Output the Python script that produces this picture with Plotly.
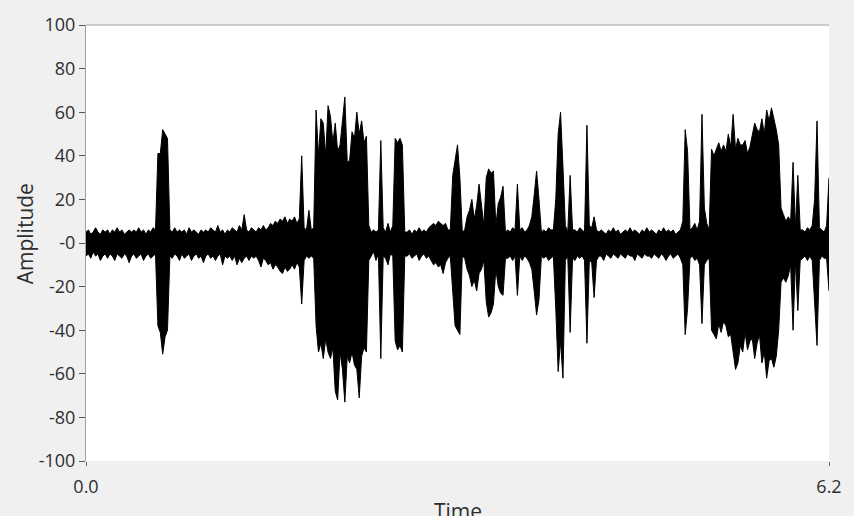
import plotly.graph_objects as go

# Waveform: start time, sample spacing (s), and per-sample upper / lower envelope
t0 = 0.0
dt = 0.02

upper = (
    [5, 6, 4, 5, 7, 5, 4, 6, 5, 6]            # 0-9
    + [4, 6, 5, 7, 5, 6, 4, 5, 6, 5]          # 10-19
    + [6, 5, 7, 5, 6, 4, 6, 5, 7, 6]          # 20-29
    + [41, 41, 52, 50, 48, 6, 5, 7, 5, 6]     # 30-39
    + [5, 6, 4, 7, 5, 6, 5, 4, 6, 5]          # 40-49
    + [6, 5, 7, 6, 5, 8, 5, 6, 4, 6]          # 50-59
    + [5, 7, 6, 5, 8, 6, 13, 6, 5, 7]         # 60-69
    + [6, 5, 7, 6, 8, 6, 7, 9, 8, 10]         # 70-79
    + [9, 11, 10, 12, 9, 11, 10, 12, 9, 11]   # 80-89
    + [40, 7, 6, 15, 6, 7, 61, 40, 57, 55]    # 90-99
    + [40, 63, 58, 46, 55, 42, 45, 56, 67, 37]  # 100-109
    + [38, 51, 48, 60, 50, 56, 46, 49, 8, 5]  # 110-119
    + [6, 5, 6, 47, 7, 5, 9, 5, 8, 48]        # 120-129
    + [46, 48, 45, 5, 5, 6, 4, 6, 5, 7]       # 130-139
    + [5, 6, 5, 7, 8, 9, 8, 10, 9, 8]         # 140-149
    + [9, 6, 6, 31, 38, 45, 30, 5, 6, 12]     # 150-159
    + [15, 20, 11, 17, 27, 16, 8, 30, 34, 32]  # 160-169
    + [33, 8, 18, 21, 26, 5, 6, 5, 7, 6]      # 170-179
    + [27, 6, 7, 5, 6, 8, 12, 22, 33, 20]     # 180-189
    + [5, 6, 5, 7, 6, 6, 20, 50, 60, 35]      # 190-199
    + [8, 5, 31, 6, 6, 5, 7, 6, 5, 54]        # 200-209
    + [8, 7, 12, 6, 5, 6, 5, 4, 6, 5]         # 210-219
    + [7, 5, 6, 4, 5, 6, 5, 7, 5, 6]          # 220-229
    + [5, 4, 6, 5, 7, 5, 6, 5, 4, 6]          # 230-239
    + [5, 7, 5, 6, 5, 6, 4, 5, 6, 10]         # 240-249
    + [52, 42, 6, 7, 9, 6, 10, 59, 16, 9]     # 250-259
    + [6, 43, 40, 43, 46, 42, 45, 42, 50, 44]  # 260-269
    + [59, 43, 48, 45, 45, 47, 41, 44, 50, 55]  # 270-279
    + [52, 51, 57, 50, 61, 56, 62, 57, 52, 45]  # 280-289
    + [16, 13, 10, 12, 10, 37, 7, 31, 6, 6]   # 290-299
    + [5, 7, 6, 8, 20, 56, 7, 6, 5, 8]        # 300-309
    + [30]                                    # 310
)

lower = (
    [-6, -5, -7, -4, -6, -5, -8, -6, -5, -7]
    + [-5, -6, -8, -5, -6, -7, -5, -6, -9, -6]
    + [-5, -7, -6, -5, -8, -6, -5, -7, -6, -5]
    + [-38, -41, -51, -43, -40, -6, -7, -5, -6, -8]
    + [-5, -7, -6, -5, -8, -6, -5, -7, -6, -9]
    + [-6, -5, -7, -6, -8, -6, -5, -10, -6, -7]
    + [-6, -8, -6, -10, -7, -9, -7, -6, -8, -6]
    + [-7, -6, -8, -11, -7, -8, -10, -9, -12, -10]
    + [-11, -13, -14, -11, -13, -12, -10, -12, -9, -11]
    + [-28, -8, -6, -7, -6, -7, -38, -50, -46, -53]
    + [-44, -50, -53, -48, -68, -72, -50, -58, -73, -52]
    + [-55, -50, -56, -58, -71, -52, -48, -50, -8, -6]
    + [-4, -8, -5, -53, -6, -7, -10, -5, -6, -45]
    + [-49, -47, -50, -6, -6, -5, -7, -6, -5, -8]
    + [-6, -5, -7, -6, -8, -10, -9, -11, -10, -14]
    + [-9, -7, -6, -22, -38, -40, -42, -6, -7, -12]
    + [-15, -20, -17, -22, -14, -12, -8, -27, -34, -32]
    + [-28, -12, -20, -23, -24, -7, -7, -6, -8, -6]
    + [-24, -6, -8, -6, -7, -9, -12, -22, -33, -26]
    + [-6, -7, -6, -8, -7, -6, -30, -59, -45, -62]
    + [-8, -6, -41, -7, -8, -6, -7, -6, -8, -46]
    + [-8, -9, -25, -8, -6, -6, -8, -5, -6, -7]
    + [-5, -6, -7, -5, -6, -7, -5, -6, -6, -8]
    + [-5, -6, -7, -5, -6, -6, -7, -5, -6, -7]
    + [-5, -6, -8, -6, -5, -7, -6, -5, -7, -10]
    + [-42, -30, -7, -6, -8, -7, -10, -37, -10, -8]
    + [-7, -40, -42, -44, -37, -41, -36, -38, -43, -42]
    + [-50, -58, -55, -47, -50, -41, -49, -45, -44, -53]
    + [-46, -42, -55, -50, -62, -54, -53, -57, -52, -40]
    + [-18, -16, -18, -15, -10, -40, -8, -31, -8, -7]
    + [-6, -8, -6, -8, -28, -47, -8, -6, -7, -7]
    + [-22]
)

x_tickvals = [0.0, 6.2]
x_ticktext = ["0.0", "6.2"]
y_tickvals = [-100, -80, -60, -40, -20, 0, 20, 40, 60, 80, 100]
y_ticktext = ["-100", "-80", "-60", "-40", "-20", "-0", "20", "40", "60", "80", "100"]
x_title = "Time"
y_title = "Amplitude"

assert len(upper) == len(lower) == 311

fig = go.Figure()
fig.add_trace(go.Scatter(x0=t0, dx=dt, y=upper, mode="lines",
                         line=dict(color="black", width=1), hoverinfo="skip"))
fig.add_trace(go.Scatter(x0=t0, dx=dt, y=lower, mode="lines",
                         line=dict(color="black", width=1),
                         fill="tonexty", fillcolor="black", hoverinfo="skip"))

font_family = "Open Sans, Noto Sans, DejaVu Sans, sans-serif"
text_color = "#2e2e2e"
fig.update_layout(
    width=854, height=516,
    paper_bgcolor="#f0f0f0", plot_bgcolor="white",
    margin=dict(l=86, r=24, t=20, b=55),
    showlegend=False,
    font=dict(family=font_family, size=18, color=text_color),
    xaxis=dict(range=[0, 6.2], tickvals=x_tickvals, ticktext=x_ticktext,
               ticks="outside", ticklen=4, tickcolor="#666666",
               showgrid=False, zeroline=False, showline=False,
               ticklabelstandoff=5),
    yaxis=dict(range=[-100, 100], tickvals=y_tickvals, ticktext=y_ticktext,
               ticks="outside", ticklen=6, tickcolor="#555555",
               showgrid=False, zeroline=False, showline=True,
               linecolor="#a0a0a0", linewidth=1),
    shapes=[dict(type="line", xref="paper", yref="paper", x0=0, x1=1, y0=1, y1=1,
                 line=dict(color="#a0a0a0", width=1))],
    annotations=[
        dict(text=y_title, xref="paper", yref="paper", x=0, y=0.52,
             xanchor="center", yanchor="middle", xshift=-61, textangle=-90,
             showarrow=False, font=dict(size=21, color=text_color)),
        dict(text=x_title, xref="paper", yref="paper", x=0.5, y=0,
             xanchor="center", yanchor="top", yshift=-34,
             showarrow=False, font=dict(size=21, color=text_color)),
    ],
)

fig.write_html("out.html", config={"displayModeBar": False},
               post_script="document.body.style.margin='0';document.body.style.padding='0';")
